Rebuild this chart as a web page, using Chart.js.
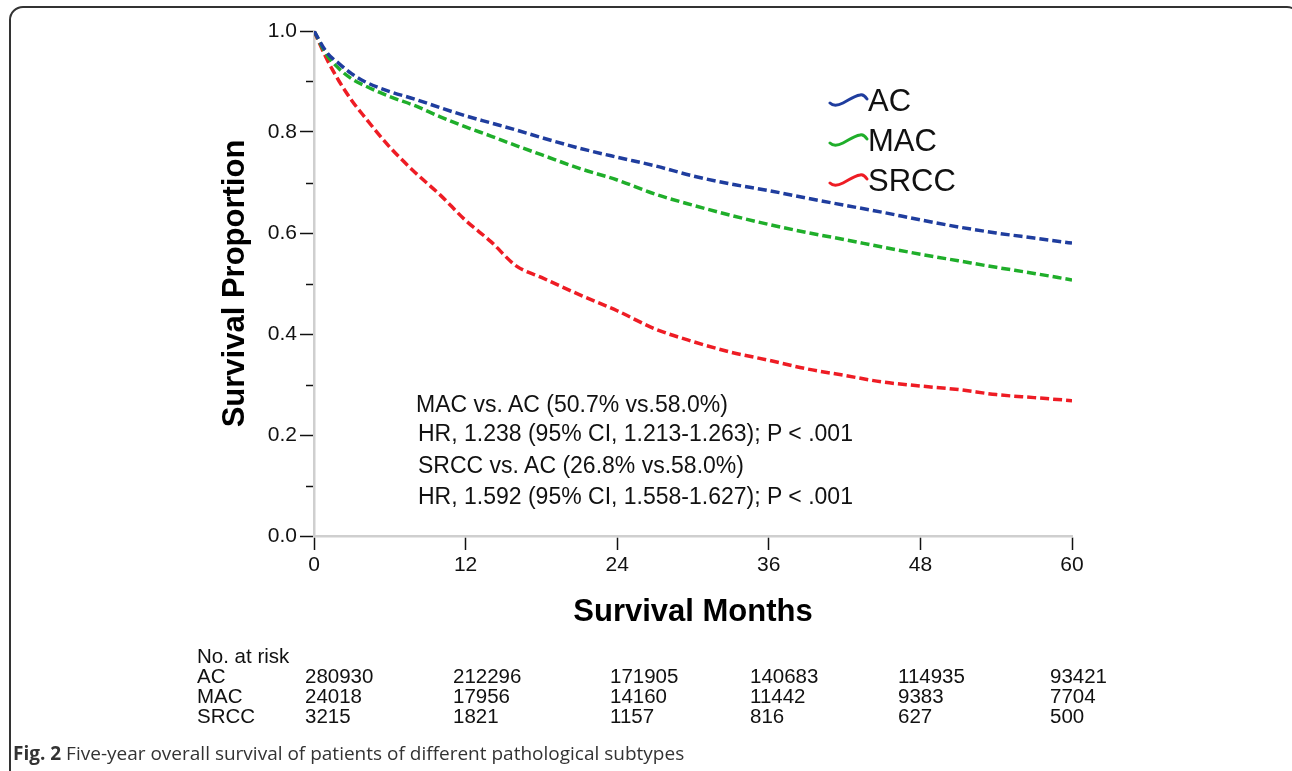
<!DOCTYPE html>
<html>
<head>
<meta charset="utf-8">
<script src="https://cdn.jsdelivr.net/npm/chart.js@4.4.0/dist/chart.umd.min.js"></script>
<style>
  body { margin: 0; background: #fff; overflow: hidden; }
  #wrap { position: relative; width: 1292px; height: 771px; overflow: hidden; font-family: "Liberation Sans", Arial, sans-serif; color: #111; }
  #frame { position: absolute; left: 9px; top: 6px; width: 1292px; height: 790px; border: 2px solid #333; border-radius: 14px; box-sizing: border-box; }
  canvas { position: absolute; left: 0; top: 0; }
  .txt { position: absolute; white-space: nowrap; line-height: 1; }
  .legend-row { position: absolute; left: 828px; height: 32px; }
  .legend-row svg { position: absolute; left: 0; top: 3px; }
  .legend-row span { position: absolute; left: 40px; top: 0; font-size: 31px; line-height: 32px; }
  #caption { position: absolute; left: 13px; top: 740px; font-family: "Open Sans", sans-serif; font-size: 19px; color: #333; white-space: nowrap; }
</style>
</head>
<body>
<div id="wrap">
  <div id="frame"></div>
  <canvas id="kmChart" width="1292" height="771"></canvas>
  <div id="legend"></div>
  <div id="notes"></div>
  <div id="risk"></div>
  <div id="caption"><b>Fig. 2</b> Five-year overall survival of patients of different pathological subtypes</div>
</div>
<script>
const months = [0, 1, 2, 3, 4, 6, 8, 10, 12, 14, 16, 18, 21, 24, 27, 30, 33, 36, 39, 42, 45, 48, 51, 54, 57, 60];
const acSurv = [1.0, 0.958, 0.935, 0.915, 0.900, 0.880, 0.865, 0.848, 0.832, 0.818, 0.804, 0.789, 0.768, 0.750, 0.733, 0.713, 0.697, 0.684, 0.669, 0.655, 0.641, 0.626, 0.612, 0.600, 0.590, 0.580];
const macSurv = [1.0, 0.953, 0.925, 0.905, 0.892, 0.870, 0.852, 0.830, 0.810, 0.792, 0.773, 0.755, 0.728, 0.705, 0.677, 0.655, 0.635, 0.617, 0.601, 0.587, 0.572, 0.558, 0.545, 0.532, 0.520, 0.507];
const srccSurv = [1.0, 0.945, 0.900, 0.862, 0.830, 0.770, 0.720, 0.675, 0.625, 0.583, 0.535, 0.512, 0.478, 0.446, 0.410, 0.385, 0.364, 0.348, 0.331, 0.318, 0.305, 0.297, 0.290, 0.280, 0.274, 0.268];

const groups = ['AC', 'MAC', 'SRCC'];
const colors = ['#1f3d9e', '#1fae2a', '#ee1c24'];
const xTicks = [0, 12, 24, 36, 48, 60];
const minorYTicks = [0.1, 0.3, 0.5, 0.7, 0.9];

const riskCols = [305, 453, 610, 750, 898, 1050];
const riskAC = [280930, 212296, 171905, 140683, 114935, 93421];
const riskMAC = [24018, 17956, 14160, 11442, 9383, 7704];
const riskSRCC = [3215, 1821, 1157, 816, 627, 500];

const notes = [
    'MAC vs. AC (50.7% vs.58.0%)',
    'HR, 1.238 (95% CI, 1.213-1.263); P < .001',
    'SRCC vs. AC (26.8% vs.58.0%)',
    'HR, 1.592 (95% CI, 1.558-1.627); P < .001'
];

function toPoints(values) {
    return months.map((m, i) => ({ x: m, y: values[i] }));
}

// short unlabeled ticks between the labeled ones on the y axis
const minorTickPlugin = {
    id: 'minorTicks',
    afterDraw(chart) {
        const y = chart.scales.y;
        const ctx = chart.ctx;
        ctx.save();
        ctx.strokeStyle = '#111';
        ctx.lineWidth = 1.5;
        minorYTicks.forEach((v) => {
            const py = Math.round(y.getPixelForValue(v)) + 0.5;
            ctx.beginPath();
            ctx.moveTo(y.right - 8, py);
            ctx.lineTo(y.right - 1, py);
            ctx.stroke();
        });
        ctx.restore();
    }
};

const tickFont = { family: '"Liberation Sans", Arial, sans-serif', size: 21 };
const titleFont = { family: '"Liberation Sans", Arial, sans-serif', size: 31, weight: 'bold' };

const ctx = document.getElementById('kmChart').getContext('2d');
const chart = new Chart(ctx, {
    type: 'line',
    data: {
        datasets: [
            { label: groups[0], data: toPoints(acSurv), borderColor: colors[0] },
            { label: groups[1], data: toPoints(macSurv), borderColor: colors[1] },
            { label: groups[2], data: toPoints(srccSurv), borderColor: colors[2] }
        ].map((d) => Object.assign(d, {
            borderWidth: 3.5,
            borderDash: [9, 4],
            pointRadius: 0,
            fill: false,
            cubicInterpolationMode: 'monotone'
        }))
    },
    options: {
        responsive: false,
        animation: false,
        devicePixelRatio: 1,
        layout: { padding: { left: 200, top: 31, right: 220, bottom: 131 } },
        plugins: {
            legend: { display: false },
            tooltip: { enabled: false }
        },
        scales: {
            x: {
                type: 'linear',
                min: 0,
                max: 60,
                afterBuildTicks: (scale) => { scale.ticks = xTicks.map((v) => ({ value: v })); },
                afterFit: (scale) => { scale.height = 104; },
                ticks: { font: tickFont, color: '#111', padding: 3, maxRotation: 0 },
                grid: { drawOnChartArea: false, drawTicks: true, tickLength: 14, tickColor: '#111', tickWidth: 1.5 },
                border: { color: '#cfcfcf', width: 2.5 },
                title: { display: true, text: 'Survival Months', font: titleFont, color: '#000', padding: { top: 0, bottom: 9 } }
            },
            y: {
                min: 0,
                max: 1,
                afterFit: (scale) => { scale.width = 114; },
                ticks: { stepSize: 0.2, font: tickFont, color: '#111', padding: 3, callback: (v) => v.toFixed(1) },
                grid: { drawOnChartArea: false, drawTicks: true, tickLength: 14, tickColor: '#111', tickWidth: 1.5 },
                border: { color: '#cfcfcf', width: 2.5 },
                title: { display: true, text: 'Survival Proportion', font: titleFont, color: '#000', padding: { top: 17, bottom: 0 } }
            }
        }
    },
    plugins: [minorTickPlugin]
});

// legend with wavy swatches
const legend = document.getElementById('legend');
const legendTops = [85, 125, 165];
groups.forEach((g, i) => {
    const row = document.createElement('div');
    row.className = 'legend-row';
    row.style.top = legendTops[i] + 'px';
    row.innerHTML = `<svg width="42" height="22"><path d="M2,15 C5,18 9,18 15,15 C21,12 26,8 32,7 C35,6 37,8 39,11" fill="none" stroke="${colors[i]}" stroke-width="3" stroke-linecap="round"/></svg><span>${g}</span>`;
    legend.appendChild(row);
});

// statistics text inside the plot
const notesDiv = document.getElementById('notes');
const noteTops = [393, 422, 454, 485];
notes.forEach((n, i) => {
    const el = document.createElement('div');
    el.className = 'txt';
    el.style.left = (i === 0 ? 416 : 418) + 'px';
    el.style.top = noteTops[i] + 'px';
    el.style.fontSize = '23px';
    el.textContent = n;
    notesDiv.appendChild(el);
});

// number at risk table
const risk = document.getElementById('risk');
function addText(text, left, top) {
    const el = document.createElement('div');
    el.className = 'txt';
    el.style.left = left + 'px';
    el.style.top = top + 'px';
    el.style.fontSize = '20.5px';
    el.textContent = text;
    risk.appendChild(el);
}
addText('No. at risk', 197, 646);
[riskAC, riskMAC, riskSRCC].forEach((row, r) => {
    const top = 666 + r * 20;
    addText(groups[r], 197, top);
    row.forEach((n, c) => addText(String(n), riskCols[c], top));
});
</script>
</body>
</html>
